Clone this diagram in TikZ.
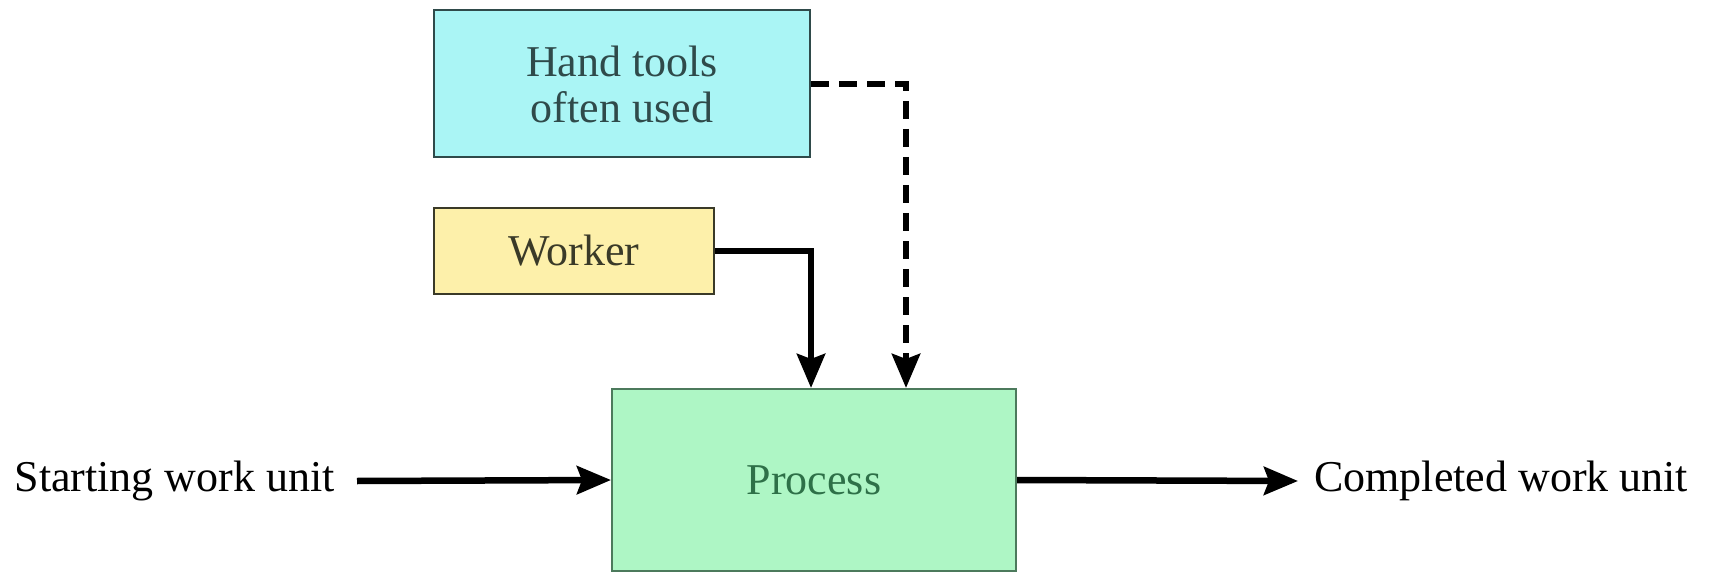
\documentclass[tikz,border=0pt]{standalone}
\usepackage{fontspec}
\setmainfont{Liberation Serif}
\usetikzlibrary{arrows.meta}
\definecolor{toolfill}{HTML}{AAF5F5}
\definecolor{toolline}{HTML}{2F4A4A}
\definecolor{workfill}{HTML}{FDF0AA}
\definecolor{workline}{HTML}{3A3A28}
\definecolor{procfill}{HTML}{AEF6C5}
\definecolor{procline}{HTML}{4C7A5C}
\definecolor{proctext}{HTML}{2E7048}
\tikzset{
  box/.style={draw, line width=2pt, inner sep=0pt, align=center,
    font=\fontsize{44}{46}\selectfont},
  lbl/.style={inner ysep=0pt, font=\fontsize{44}{44}\selectfont},
  flow/.style={line width=6.5pt, -{Stealth[length=34pt,width=28pt,inset=5pt]}},
  opt/.style={flow, dash pattern=on 18pt off 10pt}
}
\begin{document}
\begin{tikzpicture}[x=1pt,y=-1pt]
\useasboundingbox[fill=white] (0,0) rectangle (1710,572);

% boxes
\node[box, fill=toolfill, draw=toolline, text=toolline,
  minimum width=376pt, minimum height=147pt] (tools) at (622,84) {Hand tools\\often used};
\node[box, fill=workfill, draw=workline, text=workline,
  minimum width=280pt, minimum height=85pt] (worker) at (574,251) {Worker};
\node[box, fill=procfill, draw=procline, text=proctext,
  minimum width=404pt, minimum height=182pt] (process) at (814,480) {Process};

% side labels
\node[lbl, inner xsep=22pt, anchor=east] (start) at (357,481) {Starting work unit};
\node[lbl, inner xsep=16pt, anchor=west] (done) at (1298,481) {Completed work unit};

% connectors
\draw[flow] (start.east) -- (process.west);
\draw[flow] (process.east) -- (done.west);
\draw[flow] (worker.east) -| ([xshift=-3pt]process.north);
\draw[opt] (tools.east) -| ([xshift=92pt]process.north);
\end{tikzpicture}
\end{document}
